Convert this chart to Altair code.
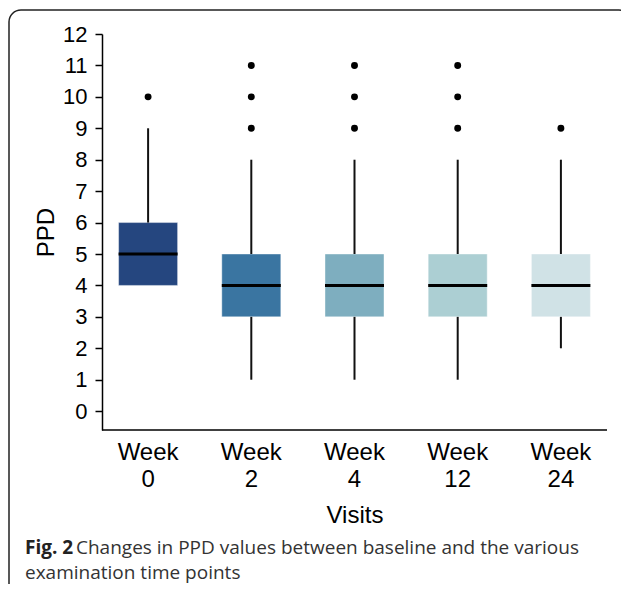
import altair as alt
import pandas as pd

# ---- data ----
weeks = ["Week 0", "Week 2", "Week 4", "Week 12", "Week 24"]
whisker_low = [4, 1, 1, 1, 2]
q1 = [4, 3, 3, 3, 3]
median = [5, 4, 4, 4, 4]
q3 = [6, 5, 5, 5, 5]
whisker_high = [9, 8, 8, 8, 8]
outliers = [[10], [9, 10, 11], [9, 10, 11], [9, 10, 11], [9]]
box_colors = ["#25467f", "#3a75a1", "#7eaebf", "#accfd3", "#d0e2e6"]
y_ticks = list(range(0, 13))

caption_bold = "Fig. 2"
caption_line1 = "Changes in PPD values between baseline and the various"
caption_line2 = "examination time points"

stats = pd.DataFrame({"week": weeks, "lo": whisker_low, "q1": q1,
                      "med": median, "q3": q3, "hi": whisker_high})
out_df = pd.DataFrame([{"week": w, "value": v}
                       for w, vs in zip(weeks, outliers) for v in vs])
one = pd.DataFrame({"a": [0]})

W, H = 505, 396
FONT = "Liberation Sans"

x_scale = alt.Scale(domain=weeks, range=[-5.5, 510.5], paddingInner=0, paddingOuter=0)
x_axis = alt.Axis(title="Visits", labelExpr="split(datum.label, ' ')",
                  labelFontSize=24, labelLineHeight=27, labelPadding=10,
                  labelColor="black", labelFont=FONT, ticks=False, tickSize=0,
                  domain=False, grid=False, labelAngle=0,
                  titleFontSize=24, titleFont=FONT, titleFontWeight="normal",
                  titleColor="black", titleY=92, titleBaseline="alphabetic")
y_scale = alt.Scale(domain=[-0.6, 12], nice=False, zero=False)
y_axis = alt.Axis(title="PPD", values=y_ticks, tickSize=7, labelPadding=8,
                  labelFontSize=22, labelFont=FONT, labelColor="black",
                  tickColor="black", tickWidth=1.5, domainColor="black",
                  domainWidth=1.5, grid=False,
                  titleFontSize=24, titleFont=FONT, titleFontWeight="normal",
                  titleColor="black", titleX=-49, titleY=198,
                  titleBaseline="alphabetic")


def X():
    return alt.X("week:N", sort=weeks, scale=x_scale, axis=x_axis)


def Y(field):
    return alt.Y(f"{field}:Q", scale=y_scale, axis=y_axis)


boxes = alt.Chart(stats).mark_bar(size=59, stroke="white", strokeWidth=0.8,
                                  strokeOpacity=0.5, opacity=1).encode(
    x=X(), y=Y("q1"), y2="q3",
    color=alt.Color("week:N", scale=alt.Scale(domain=weeks, range=box_colors),
                    legend=None))

upper = alt.Chart(stats).mark_rule(color="#111", strokeWidth=2).encode(
    x=X(), y=Y("q3"), y2="hi")
lower = alt.Chart(stats).mark_rule(color="#111", strokeWidth=2).encode(
    x=X(), y=Y("lo"), y2="q1")
med = alt.Chart(stats).mark_tick(color="black", thickness=3, size=59,
                                 opacity=1).encode(
    x=X(), y=Y("med"))
pts = alt.Chart(out_df).mark_circle(size=48, color="black", opacity=1).encode(
    x=X(), y=Y("value"))

x_line = alt.Chart(one).mark_rule(color="black", strokeWidth=1.5).encode(
    x=alt.value(0), x2=alt.value(W), y=alt.value(H))

frame = alt.Chart(one).mark_rect(filled=False, stroke="#222", strokeWidth=1.5,
                                 cornerRadius=12).encode(
    x=alt.value(-93), x2=alt.value(529), y=alt.value(-24), y2=alt.value(640))

cap_b = alt.Chart(one).mark_text(text=caption_bold, font="Open Sans",
                                 fontWeight="bold", fontSize=19, align="left",
                                 baseline="alphabetic", color="#222").encode(
    x=alt.value(-77), y=alt.value(520))
cap_1 = alt.Chart(one).mark_text(text=caption_line1, font="Open Sans",
                                 fontSize=19, align="left",
                                 baseline="alphabetic", color="#333").encode(
    x=alt.value(-26), y=alt.value(520))
cap_2 = alt.Chart(one).mark_text(text=caption_line2, font="Open Sans",
                                 fontSize=19, align="left",
                                 baseline="alphabetic", color="#333").encode(
    x=alt.value(-77), y=alt.value(545))

chart = alt.layer(frame, boxes, upper, lower, med, pts, x_line,
                  cap_b, cap_1, cap_2).properties(
    width=W, height=H,
    autosize=alt.AutoSizeParams(type="none"),
    padding={"left": 94, "top": 26, "right": 14, "bottom": 154},
    background="white",
).configure_view(stroke=None)

chart.save("out.html", embed_options={"renderer": "svg", "actions": False})
